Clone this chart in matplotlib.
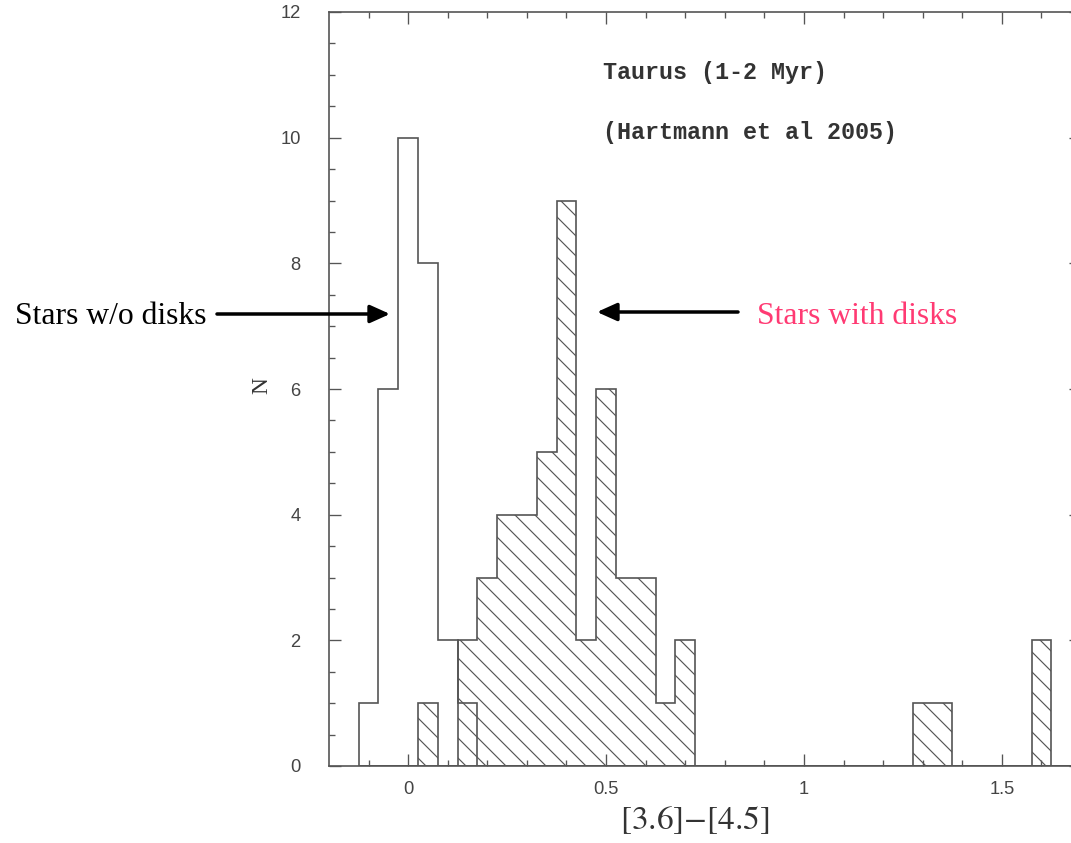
import numpy as np
import matplotlib.pyplot as plt

plt.rcParams['font.family'] = 'Liberation Sans'
plt.rcParams['hatch.linewidth'] = 0.7
plt.rcParams['mathtext.fontset'] = 'stix'

# Data ------------------------------------------------------------------------

# bin centres ([3.6]-[4.5] colour) and counts
nodisk_x = [-0.10, -0.05, 0.00, 0.05, 0.10, 0.15]
nodisk_n = [1, 6, 10, 8, 2, 1]

disk_x = [0.05, 0.15, 0.20, 0.25, 0.30, 0.35, 0.40, 0.45, 0.50,
          0.55, 0.60, 0.65, 0.70, 1.30, 1.35, 1.60]
disk_n = [1, 2, 3, 4, 4, 5, 9, 2, 6, 3, 3, 1, 2, 1, 1, 2]

bin_w = 0.05
edges = np.arange(-0.125, 1.7, bin_w)

gray = '#555555'

# Figure ----------------------------------------------------------------------

fig = plt.figure(figsize=(1071 / 120, 843 / 120), dpi=120)
ax = fig.add_axes([329 / 1071, 1 - 766 / 843, 752 / 1071, 754 / 843])

ax.hist(disk_x, bins=edges, weights=disk_n, histtype='stepfilled',
        facecolor='none', edgecolor=gray, hatch='\\\\', lw=1.0)
ax.hist(nodisk_x, bins=edges, weights=nodisk_n, histtype='step',
        color=gray, lw=1.0)

ax.set_xlim(-0.2, 1.7)
ax.set_ylim(0, 12)
ax.set_xticks([0, 0.5, 1, 1.5])
ax.set_xticklabels(['0', '0.5', '1', '1.5'])
ax.set_xticks(np.arange(-0.1, 1.7, 0.1), minor=True)
ax.set_yticks([0, 2, 4, 6, 8, 10, 12])
ax.set_yticks(np.arange(0, 12, 0.5), minor=True)

ax.tick_params(which='both', direction='in', top=True, right=True,
               color=gray, width=0.8, labelcolor='#444444', labelsize=11)
ax.tick_params(which='major', length=7)
ax.tick_params(which='minor', length=3.5)
ax.tick_params(axis='y', pad=17)
ax.tick_params(axis='x', pad=9)
for s in ax.spines.values():
    s.set_color(gray)
    s.set_linewidth(1.0)

ax.set_xlabel(r'$[3.6]{-}[4.5]$', fontsize=20, color='#333333')
ax.xaxis.set_label_coords(0.487, -0.050)
ax.set_ylabel('N', family='Liberation Serif', fontsize=14, color='#333333')
ax.yaxis.set_label_coords(-0.076, 0.505)

ax.text(603 / 1071, 1 - 72 / 843, 'Taurus (1-2 Myr)', transform=fig.transFigure,
        family='Liberation Mono', weight='bold', fontsize=14,
        color='#333333', va='center', ha='left')
ax.text(603 / 1071, 1 - 133 / 843, '(Hartmann et al 2005)',
        transform=fig.transFigure, family='Liberation Mono', weight='bold',
        fontsize=14, color='#333333', va='center', ha='left')

# Annotations -----------------------------------------------------------------

fig.text(15 / 1071, 1 - 316 / 843, 'Stars w/o disks', family='Liberation Serif',
         fontsize=19, color='black', va='center', ha='left')
fig.text(757 / 1071, 1 - 317 / 843, 'Stars with disks', family='Liberation Serif',
         fontsize=19, color='#ff3a73', va='center', ha='left')

arrow = dict(arrowstyle='-|>,head_length=1.0,head_width=0.45',
             mutation_scale=10, lw=2.1, color='black', shrinkA=0, shrinkB=0)
ax.annotate('', xy=(390 / 1071, 1 - 314 / 843), xytext=(217 / 1071, 1 - 314 / 843),
            xycoords='figure fraction', textcoords='figure fraction',
            arrowprops=arrow)
ax.annotate('', xy=(597 / 1071, 1 - 312 / 843), xytext=(738 / 1071, 1 - 312 / 843),
            xycoords='figure fraction', textcoords='figure fraction',
            arrowprops=arrow)

fig.savefig('out.png', dpi=120)
